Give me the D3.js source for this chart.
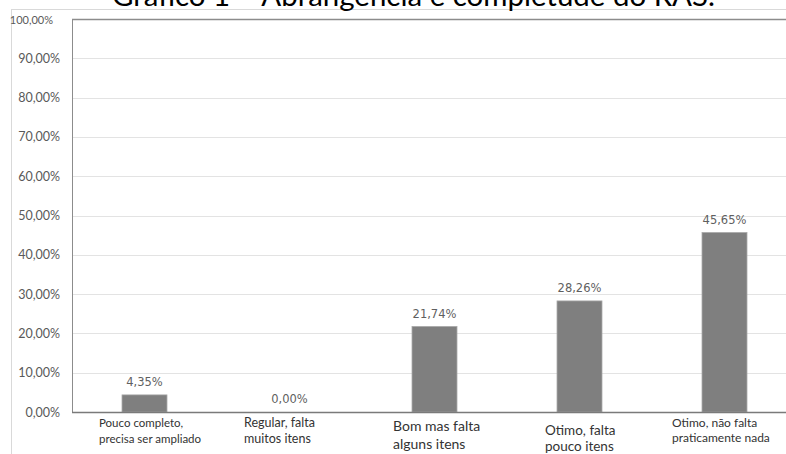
<!DOCTYPE html>
<html>
<head>
<meta charset="utf-8">
<script src="https://cdn.jsdelivr.net/npm/d3@7"></script>
<style>
  html, body { margin: 0; padding: 0; background: #fff; overflow: hidden; }
  svg { display: block; }
</style>
</head>
<body>
<svg id="chart" width="786" height="454"></svg>
<script>
// Categories (two-line labels) and their shares
const categories = [
  ["Pouco completo,", "precisa ser ampliado"],
  ["Regular, falta", "muitos itens"],
  ["Bom mas falta", "alguns itens"],
  ["Otimo, falta", "pouco itens"],
  ["Otimo, não falta", "praticamente nada"]
];
const values = [4.35, 0.00, 21.74, 28.26, 45.65];
const yTicks = [0, 10, 20, 30, 40, 50, 60, 70, 80, 90, 100];
const title = "Gráfico 1 – Abrangência e completude do RAS.";

// Per-label typography of the category text boxes
const labelLayout = [
  { dx: -45.5, y1: 427, y2: 443, size: 11.5 },
  { dx: -45.5, y1: 427, y2: 443, size: 12.5 },
  { dx: -41.5, y1: 431, y2: 449, size: 14 },
  { dx: -34.5, y1: 435, y2: 451, size: 13.5 },
  { dx: -52.5, y1: 427, y2: 442, size: 12 }
];

const fmt = v => v.toFixed(2).replace(".", ",") + "%";
const svg = d3.select("#chart");

const W = 786;
const plot = { left: 72, right: 797, top: 19, bottom: 412 };

const x = d3.scaleBand()
  .domain(d3.range(categories.length))
  .range([plot.left, plot.right])
  .paddingInner(0.69)
  .paddingOuter(0.345);

const y = d3.scaleLinear().domain([0, 100]).range([plot.bottom, plot.top]);

// Outer chart frame (top and left edges)
svg.append("line")
  .attr("x1", 11).attr("x2", W).attr("y1", 9.5).attr("y2", 9.5)
  .attr("stroke", "#d9d9d9").attr("stroke-width", 1);
svg.append("line")
  .attr("x1", 11.5).attr("x2", 11.5).attr("y1", 9).attr("y2", 454)
  .attr("stroke", "#d9d9d9").attr("stroke-width", 1);

// Title
svg.append("text")
  .attr("x", 112).attr("y", 6)
  .attr("textLength", 603)
  .attr("lengthAdjust", "spacingAndGlyphs")
  .attr("font-family", "Lato, 'Open Sans', sans-serif")
  .attr("font-size", 28)
  .attr("fill", "#000")
  .text(title);

// Gridlines
svg.append("g")
  .selectAll("line")
  .data(yTicks.filter(t => t > 0 && t < 100))
  .join("line")
  .attr("x1", plot.left).attr("x2", W)
  .attr("y1", d => Math.round(y(d)) + 0.5).attr("y2", d => Math.round(y(d)) + 0.5)
  .attr("stroke", "#e3e3e3").attr("stroke-width", 1);

// Plot area border (top and left)
svg.append("line")
  .attr("x1", plot.left).attr("x2", W)
  .attr("y1", plot.top + 0.5).attr("y2", plot.top + 0.5)
  .attr("stroke", "#8c8c8c").attr("stroke-width", 1.5);
svg.append("line")
  .attr("x1", plot.left + 0.5).attr("x2", plot.left + 0.5)
  .attr("y1", plot.top).attr("y2", plot.bottom)
  .attr("stroke", "#8c8c8c").attr("stroke-width", 1);

// Y axis labels
const yAxis = d3.axisLeft(y)
  .tickValues(yTicks)
  .tickSize(0)
  .tickPadding(12)
  .tickFormat(fmt);
const gy = svg.append("g")
  .attr("transform", `translate(${plot.left},0)`)
  .call(yAxis);
gy.select(".domain").remove();
gy.selectAll("text")
  .attr("font-family", "Lato, 'Open Sans', sans-serif")
  .attr("font-size", 12.5)
  .attr("fill", "#595959");
gy.selectAll(".tick")
  .filter(d => d === 100)
  .select("text")
  .attr("font-size", 11)
  .attr("x", -19)
  .attr("dy", "0.4em");

// Bars
svg.append("g")
  .selectAll("rect")
  .data(values)
  .join("rect")
  .attr("x", (d, i) => x(i))
  .attr("y", d => y(d))
  .attr("width", x.bandwidth())
  .attr("height", d => y(0) - y(d))
  .attr("fill", "#7f7f7f")
  .attr("stroke", "#a6a6a6")
  .attr("stroke-width", 0.8);

// Baseline
svg.append("line")
  .attr("x1", plot.left).attr("x2", W)
  .attr("y1", plot.bottom + 0.5).attr("y2", plot.bottom + 0.5)
  .attr("stroke", "#7a7a7a").attr("stroke-width", 1.3);

// Value labels
svg.append("g")
  .selectAll("text")
  .data(values)
  .join("text")
  .attr("x", (d, i) => x(i) + x.bandwidth() / 2)
  .attr("y", d => y(d) - 9)
  .attr("text-anchor", "middle")
  .attr("font-family", "'DejaVu Sans', Verdana, sans-serif")
  .attr("font-size", 11.5)
  .attr("fill", "#5f5f5f")
  .text(fmt);

// Category labels
const cat = svg.append("g")
  .selectAll("text")
  .data(categories)
  .join("text")
  .attr("font-family", "Lato, 'Open Sans', sans-serif")
  .attr("font-size", (d, i) => labelLayout[i].size)
  .attr("fill", "#333");
cat.each(function(d, i) {
  const L = labelLayout[i];
  const cx = x(i) + x.bandwidth() / 2;
  const t = d3.select(this);
  t.append("tspan").attr("x", cx + L.dx).attr("y", L.y1).text(d[0]);
  t.append("tspan").attr("x", cx + L.dx).attr("y", L.y2).text(d[1]);
});
</script>
</body>
</html>
